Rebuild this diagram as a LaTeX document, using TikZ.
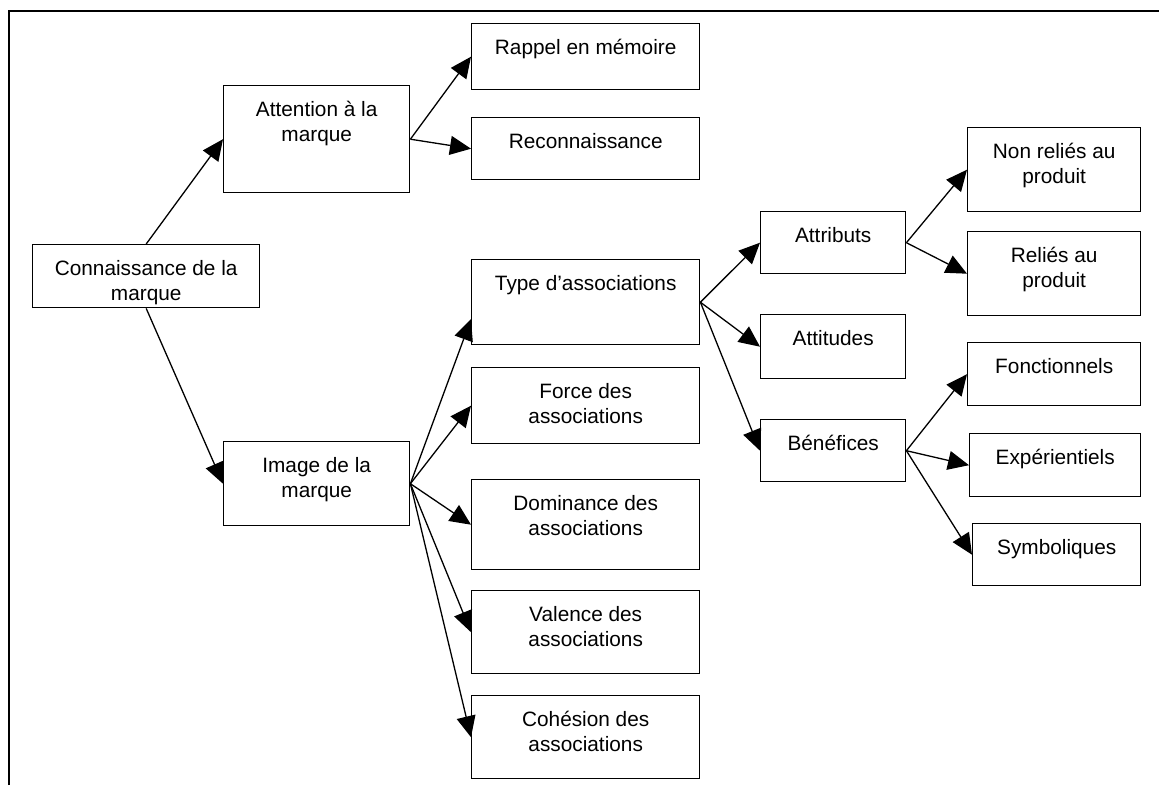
\documentclass[tikz,border=0pt]{standalone}
\usepackage{fontspec}
\setmainfont{Liberation Sans}
\usetikzlibrary{arrows.meta}
\newcommand\bx[6]{\node[box] (#1) at (#2,#3) {\parbox[t][#5pt][t]{#4pt}{\centering\rule{0pt}{31pt}#6}};}
\begin{document}
\begin{tikzpicture}[x=1pt,y=-1pt,
  box/.style={draw, line width=1.4pt, inner sep=0pt, anchor=north west,
    font=\fontsize{20.8pt}{25pt}\selectfont},
  arr/.style={line width=1.3pt, -{Triangle[length=21pt,width=19pt]}},
  frame/.style={line width=1.7pt}]
\useasboundingbox (0,0) rectangle (1159,785);
% page frame (top and left edges)
\coordinate (f1) at (9,785);
\coordinate (f2) at (9,11);
\coordinate (f3) at (1159,11);
\draw[frame] (f1) -- (f2) -- (f3);
% boxes
\bx{con}{32}{244}{227}{63}{Connaissance de la\\marque}
\bx{att}{223}{85}{186}{107}{Attention à la\\marque}
\bx{img}{223}{441}{186}{84}{Image de la\\marque}
\bx{rap}{471}{23}{228}{66}{Rappel en mémoire}
\bx{rec}{471}{117}{228}{62}{Reconnaissance}
\bx{typ}{471}{259}{228}{85}{Type d’associations}
\bx{for}{471}{367}{228}{76}{Force des\\associations}
\bx{dom}{471}{479}{228}{90}{Dominance des\\associations}
\bx{val}{471}{590}{228}{83}{Valence des\\associations}
\bx{coh}{471}{695}{228}{83}{Cohésion des\\associations}
\bx{atb}{760}{211}{145}{62}{Attributs}
\bx{atd}{760}{314}{145}{64}{Attitudes}
\bx{ben}{760}{419}{145}{62}{Bénéfices}
\bx{non}{967}{127}{173}{84}{Non reliés au\\produit}
\bx{rel}{967}{231}{173}{84}{Reliés au\\produit}
\bx{fon}{967}{342}{173}{63}{Fonctionnels}
\bx{exp}{969}{433}{171}{63}{Expérientiels}
\bx{sym}{972}{523}{168}{62}{Symboliques}
% connectors
\draw[arr] (con.north) -- (att.west);
\draw[arr] (con.south) -- (img.west);
\draw[arr] (att.east) -- (rap.west);
\draw[arr] (att.east) -- (rec.west);
\draw[arr] (img.east) -- ([yshift=-17pt]typ.west);
\draw[arr] (img.east) -- (for.west);
\draw[arr] (img.east) -- (dom.west);
\draw[arr] (img.east) -- (val.west);
\draw[arr] (img.east) -- (coh.west);
\draw[arr] (typ.east) -- (atb.west);
\draw[arr] (typ.east) -- (atd.west);
\draw[arr] (typ.east) -- (ben.west);
\draw[arr] (atb.east) -- (non.west);
\draw[arr] (atb.east) -- (rel.west);
\draw[arr] (ben.east) -- (fon.west);
\draw[arr] (ben.east) -- (exp.west);
\draw[arr] (ben.east) -- (sym.west);
\end{tikzpicture}
\end{document}
